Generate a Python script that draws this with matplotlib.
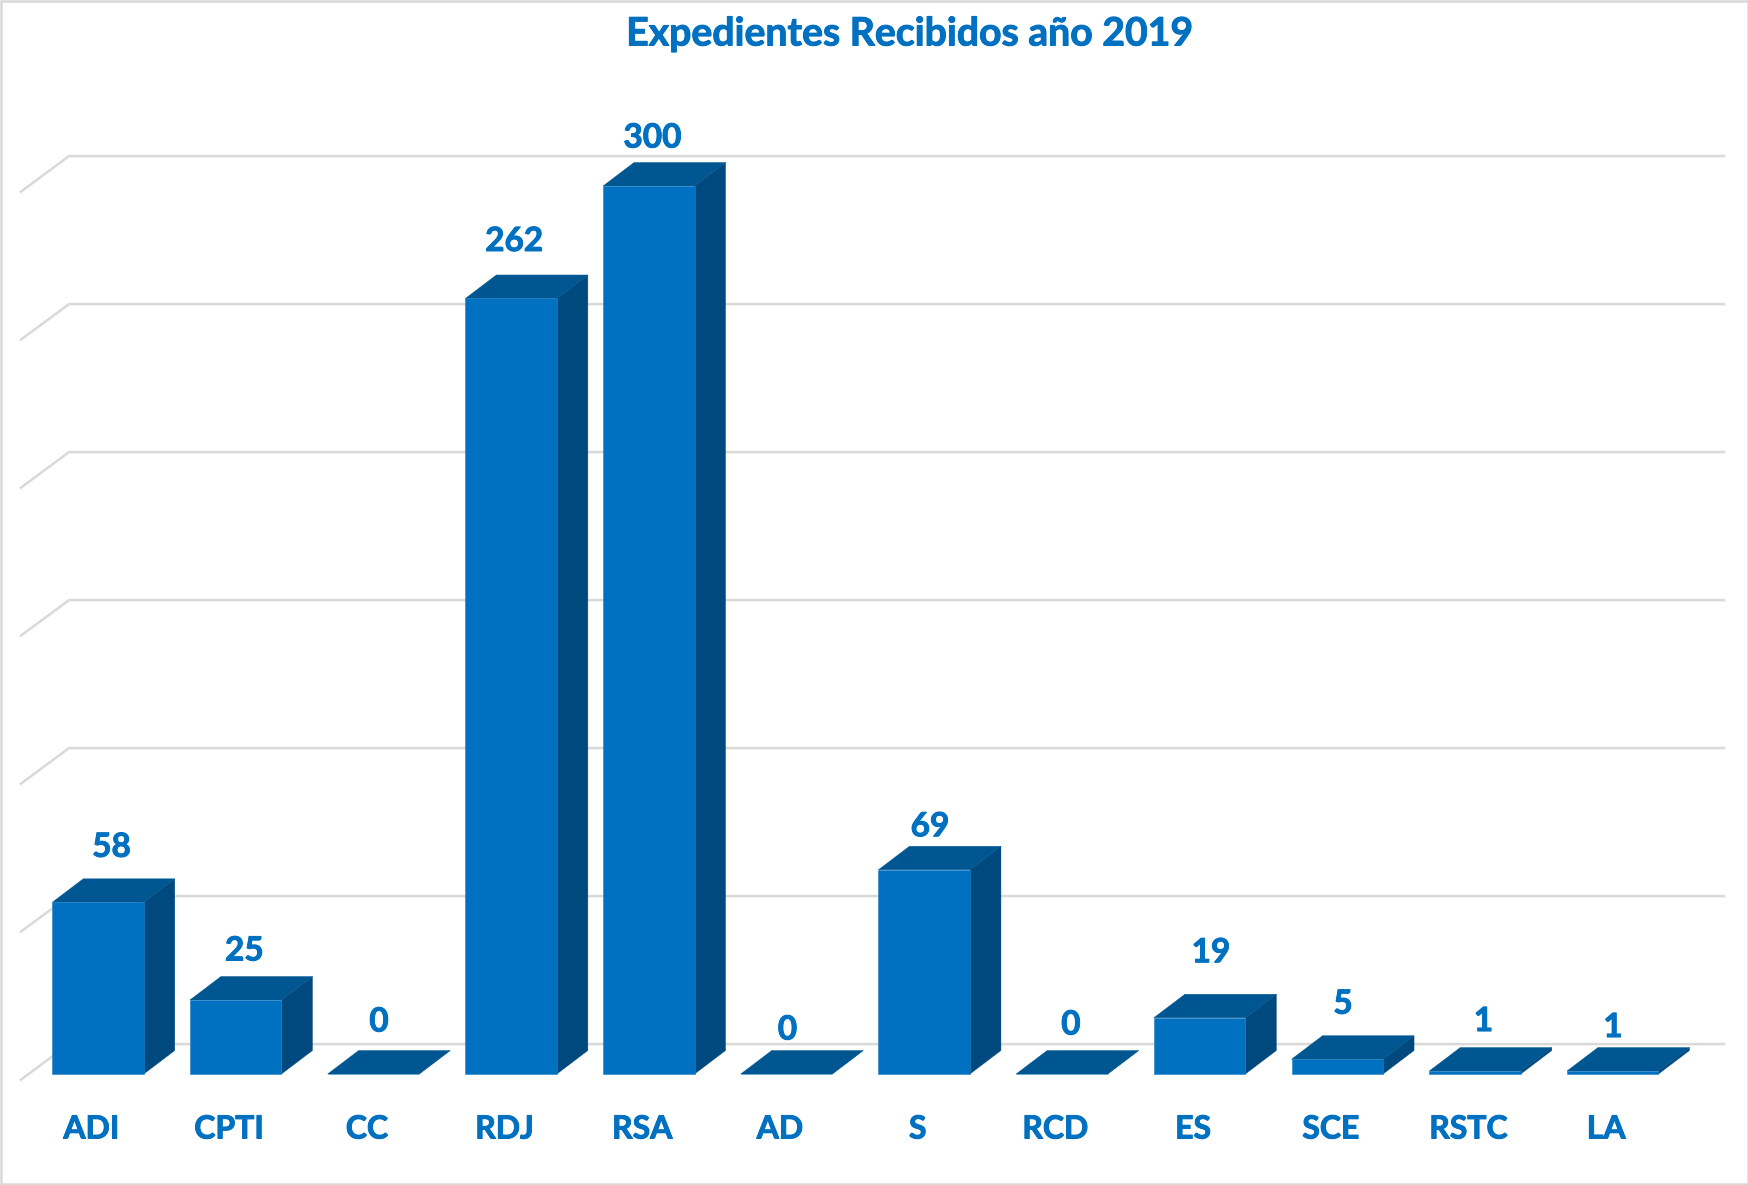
import matplotlib
matplotlib.use("Agg")
import matplotlib.pyplot as plt
from matplotlib.patches import Polygon, Rectangle
import matplotlib.patheffects as pe

plt.rcParams['font.family'] = ['Lato', 'DejaVu Sans']

categories = ["ADI", "CPTI", "CC", "RDJ", "RSA", "AD", "S", "RCD", "ES", "SCE", "RSTC", "LA"]
values = [58, 25, 0, 262, 300, 0, 69, 0, 19, 5, 1, 1]
value_ticks = [0, 50, 100, 150, 200, 250, 300]
title = "Expedientes Recibidos año 2019"

# hand-placed data-label offsets from each bar's top centre, in pixels
label_dx = [13.5, 8.6, 5.6, 3, 3.7, 1, 5.8, 9, 11.4, 5.7, 8.5, 0.3]
label_dy = [55, 49, 52, 57, 48, 44, 43, 49, 65, 55, 49.5, 43.5]

W, H = 1749, 1185
PX_PER_UNIT = 2.96
PX_PER_CAT = 137.7
X0, Y0 = 98.0, 1074.0
BAR_W = 91.5 / PX_PER_CAT
DX = 31 / PX_PER_CAT
DY = 23.5 / PX_PER_UNIT
GRID_SHIFT = 5.5 / PX_PER_UNIT

FRONT, TOP, SIDE = "#0070C0", "#005690", "#00497E"
GRID, BORDER, TEXT = "#D9D9D9", "#D9D9D9", "#0070C0"
HEAVY = [pe.withStroke(linewidth=0.7, foreground=TEXT)]

fig = plt.figure(figsize=(W / 100, H / 100), dpi=100, facecolor="white")
ax = fig.add_axes([0, 0, 1, 1])
ax.set_xlim(-X0 / PX_PER_CAT, (W - X0) / PX_PER_CAT)
ax.set_ylim((Y0 - H) / PX_PER_UNIT, Y0 / PX_PER_UNIT)
ax.axis("off")

ax.add_patch(Rectangle((0.0008, 0.001), 0.9984, 0.998, transform=ax.transAxes,
                       fill=False, ec=BORDER, lw=1.8, zorder=1))

# gridlines: back wall plus left floor/side diagonal
x_left_back = (69 - X0) / PX_PER_CAT
x_right = (1724 - X0) / PX_PER_CAT
x_left_front = (21 - X0) / PX_PER_CAT
for t in value_ticks:
    yb = t + DY + GRID_SHIFT + 0.3
    yf = yb - 35.5 / PX_PER_UNIT
    ax.plot([x_left_front, x_left_back, x_right], [yf, yb, yb],
            color=GRID, lw=1.8, solid_joinstyle="miter", zorder=2)

for i, v in enumerate(values):
    l, r = i - BAR_W / 2, i + BAR_W / 2
    ax.add_patch(Polygon([(r, 0), (r + DX, DY), (r + DX, v + DY), (r, v)],
                         fc=SIDE, ec=SIDE, lw=0.3, zorder=3))
    ax.add_patch(Polygon([(l, v), (r, v), (r + DX, v + DY), (l + DX, v + DY)],
                         fc=TOP, ec=TOP, lw=0.3, zorder=3))
    ax.add_patch(Rectangle((l, 0), BAR_W, v, fc=FRONT, ec="#1F80C6", lw=0.4, zorder=4))
    ax.annotate(str(v), xy=(i, v), xytext=(label_dx[i], label_dy[i]),
                textcoords="offset pixels", ha="center", va="center",
                color=TEXT, fontsize=24, fontweight="bold", zorder=5, path_effects=HEAVY)
    ax.annotate(categories[i], xy=(i, 0), xytext=(-6.5, -55),
                textcoords="offset pixels", ha="center", va="center",
                color=TEXT, fontsize=23, fontweight="bold", zorder=5, path_effects=HEAVY)

ax.text(0.5198, 1 - 34 / H, title, transform=ax.transAxes, ha="center", va="center",
        color=TEXT, fontsize=28.2, fontweight="bold", zorder=5, path_effects=HEAVY)

fig.savefig("out.png", dpi=100, facecolor="white")
